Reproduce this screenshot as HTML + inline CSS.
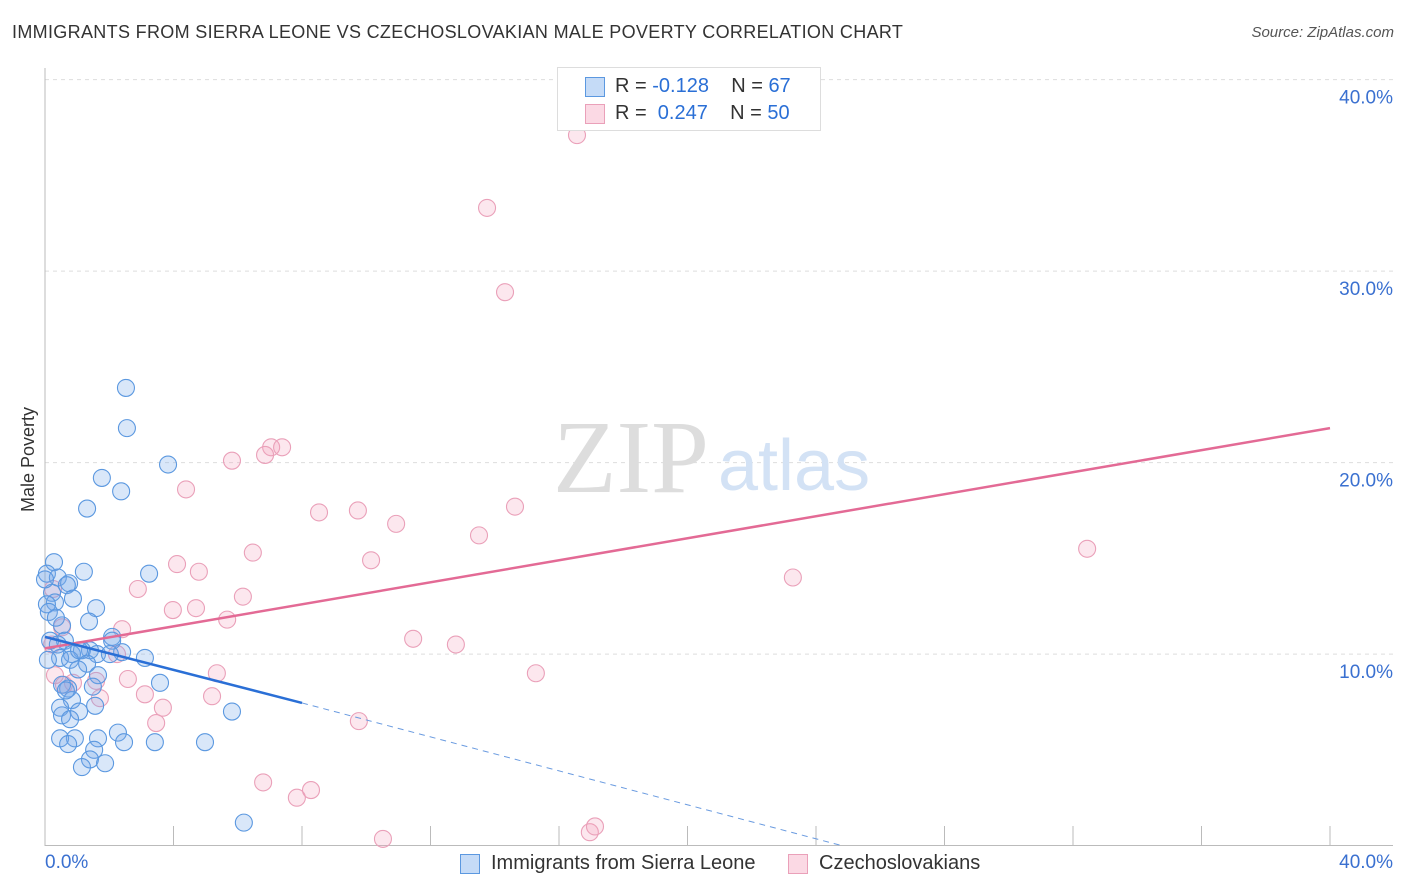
<!DOCTYPE html>
<html><head><meta charset="utf-8"><style>
body{margin:0;background:#fff;font-family:"Liberation Sans",sans-serif;}
#wrap{position:relative;width:1406px;height:892px;overflow:hidden;}
.t{position:absolute;white-space:nowrap;}
</style></head><body>
<div id="wrap">
<div class="t" style="left:12px;top:22px;font-size:18px;letter-spacing:0.33px;color:#333;">IMMIGRANTS FROM SIERRA LEONE VS CZECHOSLOVAKIAN MALE POVERTY CORRELATION CHART</div>
<div class="t" style="right:12px;top:24px;font-size:15px;color:#555;font-style:italic;">Source: ZipAtlas.com</div>
<svg id="svg" width="1406" height="892" style="position:absolute;left:0;top:0;"></svg>
</div>
<script>
const blueX=[2.52,2.55,1.77,2.37,3.83,1.31,0.28,0.06,0.40,1.21,0.75,0.68,3.24,0.87,0.22,0.31,0.06,1.59,1.37,0.53,0.62,1.40,2.09,0.16,0.40,1.15,0.84,0.47,0.78,1.06,1.62,2.40,3.11,2.09,1.31,1.03,1.65,0.72,0.53,1.49,0.84,1.56,1.06,0.47,0.53,0.78,3.58,5.82,2.27,1.65,0.93,0.47,2.46,3.42,4.98,0.72,1.53,1.40,1.87,1.15,6.19,0.12,0.09,0.0,0.34,0.65,2.02];
const blueY=[23.9,21.8,19.2,18.5,19.9,17.6,14.8,14.2,14.0,14.3,13.7,13.6,14.2,12.9,13.2,12.7,12.6,12.4,11.7,11.5,10.7,10.2,10.9,10.7,10.5,10.2,10.0,9.8,9.7,10.2,10.0,10.1,9.8,10.7,9.5,9.2,8.9,8.2,8.4,8.3,7.6,7.3,7.0,7.2,6.8,6.6,8.5,7.0,5.9,5.6,5.6,5.6,5.4,5.4,5.4,5.3,5.0,4.5,4.3,4.1,1.2,12.2,9.7,13.9,11.9,8.1,10.0];
const pinkX=[16.56,13.76,14.32,7.04,7.38,6.85,5.82,4.39,8.53,9.74,10.93,14.63,13.51,32.44,6.47,10.15,4.11,4.79,2.89,6.16,4.70,3.98,5.67,23.28,11.46,12.79,2.40,2.24,0.53,0.22,0.31,0.59,0.87,1.59,1.71,2.58,3.11,3.67,3.46,5.20,5.35,15.28,9.77,6.79,7.84,8.28,10.52,16.96,17.12,0.25];
const pinkY=[37.1,33.3,28.9,20.8,20.8,20.4,20.1,18.6,17.4,17.5,16.8,17.7,16.2,15.5,15.3,14.9,14.7,14.3,13.4,13.0,12.4,12.3,11.8,14.0,10.8,10.5,11.3,10.0,11.4,10.5,8.9,8.4,8.5,8.6,7.7,8.7,7.9,7.2,6.4,7.8,9.0,9.0,6.5,3.3,2.5,2.9,0.35,0.7,1.0,13.4];
const yTicks=[10,20,30,40];
const yTickLabels=["10.0%","20.0%","30.0%","40.0%"];
const blueTrend=[[0,10.9],[8.0,7.45]];
const blueDash=[[8.0,7.45],[24.8,0]];
const pinkTrend=[[0,10.3],[40,21.8]];

const X0=45,X1=1330,Y0=845.6,PPY=19.15;
const xs=v=>X0+(v/40)*(X1-X0);
const ys=v=>Y0-v*PPY;
const svg=document.getElementById('svg');
const NS='http://www.w3.org/2000/svg';
function mk(tag,at){const e=document.createElementNS(NS,tag);for(const k in at)e.setAttribute(k,at[k]);svg.appendChild(e);return e;}
yTicks.forEach((t,i)=>{
 const g=mk('line',{x1:X0,x2:1393,y1:ys(t),y2:ys(t),stroke:'#ddd','stroke-dasharray':'4,4'});
 
 
 const tx=mk('text',{x:1393,y:ys(t)+24,'text-anchor':'end','font-size':19,fill:'#3a70d0','font-family':'Liberation Sans'});
 tx.textContent=yTickLabels[i];
 
 
});
const ax=mk('line',{x1:X0,x2:X0,y1:68,y2:846,stroke:'#bbb'});


const bx=mk('line',{x1:X0,x2:1393,y1:845.5,y2:845.5,stroke:'#bbb'});


for(let i=1;i<=10;i++){const tk=mk('line',{x1:xs(i*4),x2:xs(i*4),y1:826,y2:846,stroke:'#bbb'});
 
 }
const w1=mk('text',{x:553,y:492,'font-size':104,fill:'#ddd','font-family':'Liberation Serif'});w1.textContent='ZIP';


const w2=mk('text',{x:718,y:490,'font-size':72,fill:'#d3e2f5','font-family':'Liberation Sans'});w2.textContent='atlas';


function pts(X,Y,fill,stroke,name){X.forEach((x,i)=>{const c=mk('circle',{cx:xs(x),cy:ys(Y[i]),r:8.5,fill:fill,stroke:stroke,'stroke-width':1.1});
 
 });}
pts(pinkX,pinkY,'rgba(244,160,188,0.25)','#eaa0b9','czechoslovakian-point');
pts(blueX,blueY,'rgba(120,170,235,0.28)','#5b98e0','sierra-leone-point');
function ln(p,st,wd,dash,name){const l=mk('line',{x1:xs(p[0][0]),y1:ys(p[0][1]),x2:xs(p[1][0]),y2:ys(p[1][1]),stroke:st,'stroke-width':wd});if(dash)l.setAttribute('stroke-dasharray',dash);
 
 }
ln(pinkTrend,'#e36a95',2.5,null,'czechoslovakian-trendline');
ln(blueTrend,'#2a6fd6',2.5,null,'sierra-leone-trendline');
ln(blueDash,'#6a9be0',1,'6,5','sierra-leone-trendline-extension');
</script>
<div class="t" style="left:18px;top:512px;transform:rotate(-90deg);transform-origin:0 0;font-size:18px;color:#333;">Male Poverty</div>
<div class="t" style="left:45px;top:852px;font-size:19px;color:#3a70d0;">0.0%</div>
<div class="t" style="right:13px;top:852px;font-size:19px;color:#3a70d0;">40.0%</div>
<div style="position:absolute;left:557px;top:67px;width:262px;height:62px;border:1px solid #ddd;background:#fff;font-size:20px;">
 <div style="position:absolute;left:27px;top:9px;width:18px;height:18px;background:rgba(110,165,235,0.4);border:1px solid #5b98e0;"></div>
 <div class="t" style="left:57px;top:7px;color:#333;">R = <span style="color:#2a6fd6">-0.128</span>&nbsp;&nbsp;&nbsp;&nbsp;N = <span style="color:#2a6fd6">67</span></div>
 <div style="position:absolute;left:27px;top:36px;width:18px;height:18px;background:rgba(244,160,188,0.4);border:1px solid #eaa0b9;"></div>
 <div class="t" style="left:57px;top:34px;color:#333;">R = &nbsp;<span style="color:#2a6fd6">0.247</span>&nbsp;&nbsp;&nbsp;&nbsp;N = <span style="color:#2a6fd6">50</span></div>
</div>
<div style="position:absolute;left:460px;top:854px;width:18px;height:18px;background:rgba(110,165,235,0.4);border:1px solid #5b98e0;"></div>
<div class="t" style="left:491px;top:852px;font-size:20px;color:#333;">Immigrants from Sierra Leone</div>
<div style="position:absolute;left:788px;top:854px;width:18px;height:18px;background:rgba(244,160,188,0.4);border:1px solid #eaa0b9;"></div>
<div class="t" style="left:819px;top:852px;font-size:20px;color:#333;">Czechoslovakians</div>
</body></html>
